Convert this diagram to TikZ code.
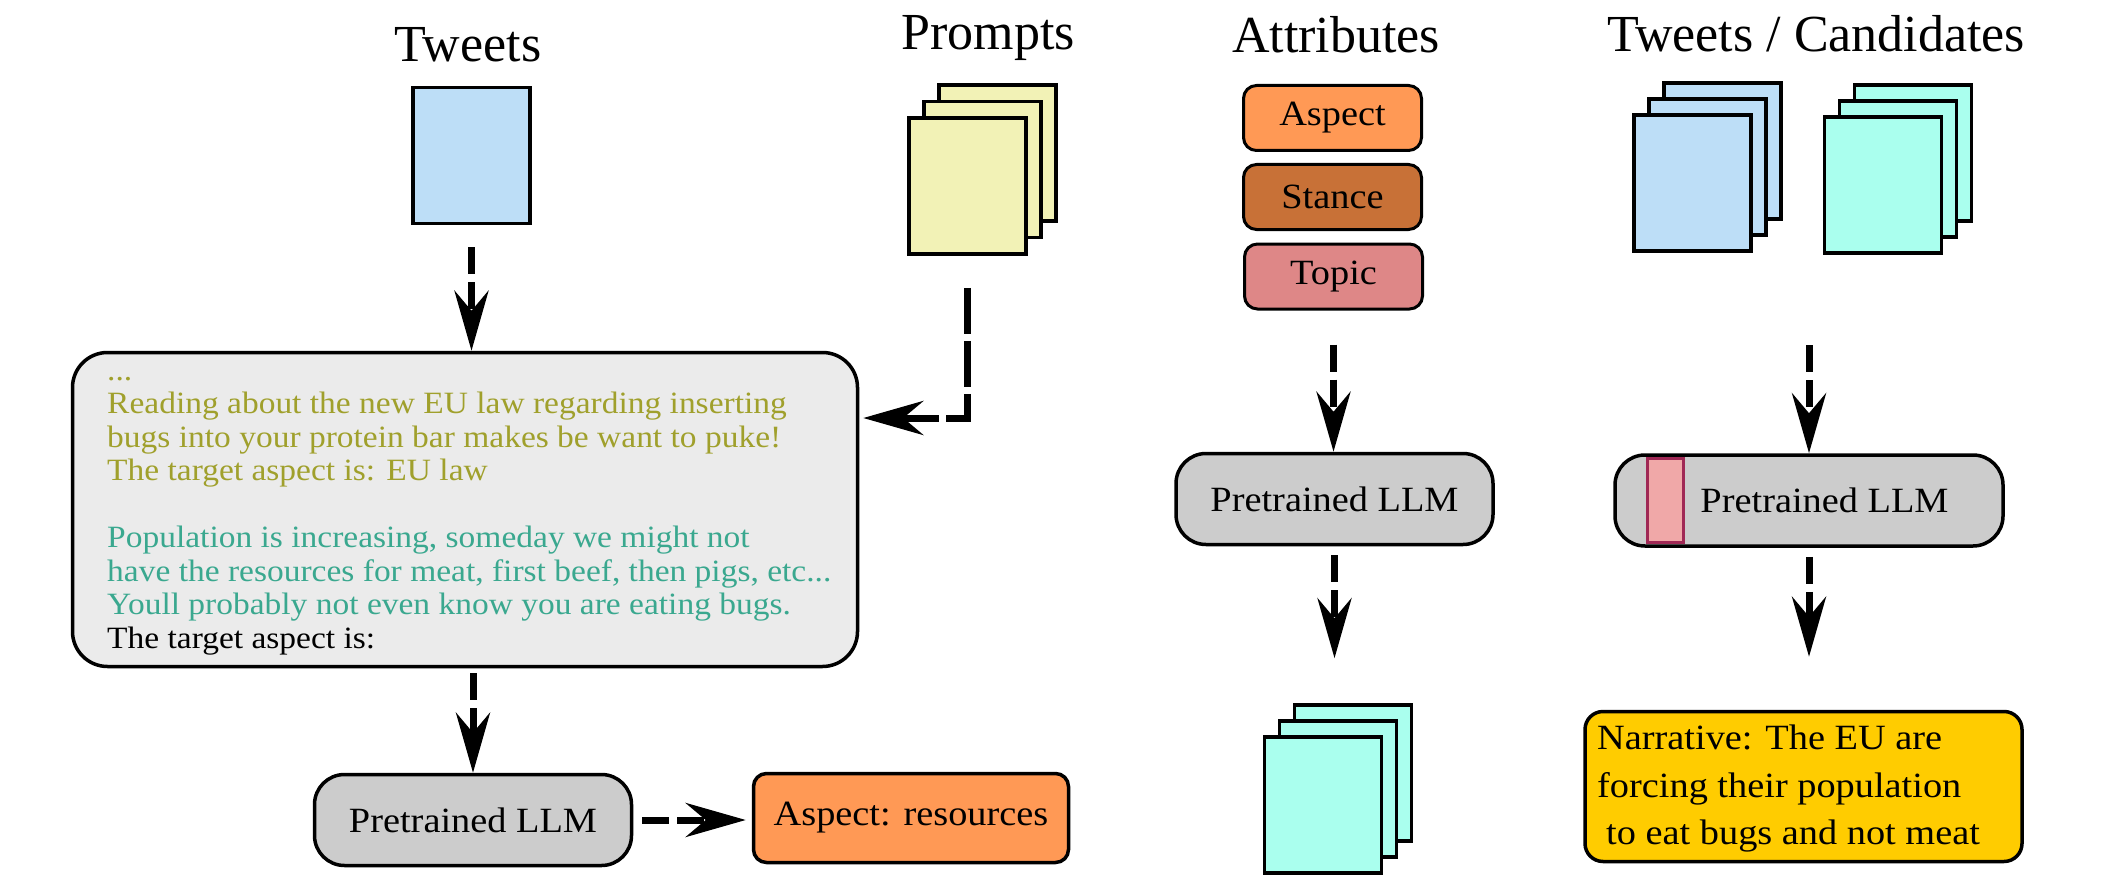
\documentclass[tikz,border=0pt]{standalone}
\usepackage{fontspec}
\setmainfont{Liberation Serif}
\newfontfamily\widefont{Liberation Serif}[FakeStretch=1.08]
\usetikzlibrary{arrows.meta}
\definecolor{tweetblue}{RGB}{189, 222, 247}
\definecolor{promptyellow}{RGB}{242, 242, 182}
\definecolor{candcyan}{RGB}{170, 255, 238}
\definecolor{boxgray}{RGB}{235, 235, 235}
\definecolor{llmgray}{RGB}{204, 204, 204}
\definecolor{aspectorange}{RGB}{255, 153, 85}
\definecolor{stancebrown}{RGB}{200, 113, 55}
\definecolor{topicpink}{RGB}{222, 135, 135}
\definecolor{narrgold}{RGB}{255, 204, 0}
\definecolor{adapterpink}{RGB}{240, 168, 168}
\definecolor{adapterred}{RGB}{160, 40, 85}
\definecolor{olivetext}{RGB}{160, 160, 44}
\definecolor{tealtext}{RGB}{58, 168, 143}

\begin{document}
\begin{tikzpicture}[
  title/.style={anchor=base, inner sep=0pt, font=\fontsize{52pt}{60pt}\selectfont},
  page/.style={rectangle, draw=black, line width=3.5pt, minimum width=117pt, minimum height=136pt, inner sep=0pt},
  attr/.style={rectangle, rounded corners=13pt, draw=black, line width=3pt, minimum width=178pt, minimum height=65pt, font=\widefont\fontsize{35.5pt}{44pt}\selectfont},
  llm/.style={rectangle, rounded corners=30pt, draw=black, line width=3.5pt, fill=llmgray, minimum width=317pt, minimum height=91pt, font=\widefont\fontsize{35.5pt}{44pt}\selectfont},
  flow/.style={line width=7pt, dash pattern=on 27pt off 8pt, -{Stealth[length=60pt, width=34pt, inset=20pt]}}]
\useasboundingbox (0pt, 0pt) rectangle (2116pt, -896pt);
% column titles
\node (t1) [title] at (468pt, -62pt) {Tweets};
\node (t2) [title] at (988pt, -50pt) {Prompts};
\node (t3) [title] at (1336pt, -53pt) {Attributes};
\node (t4) [title] at (1816pt, -52pt) {Tweets / Candidates};
% tweet and prompts
\node (tw) [page, fill=tweetblue] at (471.5pt, -155.5pt) {};
\foreach \i in {2,1,0}
  \node (p\i) [page, fill=promptyellow] at ({967.5pt+15pt*\i}, {-186pt+16.5pt*\i}) {};
% prompt box
\node (box) [rectangle, rounded corners=35pt, draw=black, line width=3.5pt, fill=boxgray, minimum width=785pt, minimum height=314pt] at (465pt, -509.5pt) {};
\node (txt) [anchor=north west, inner sep=0pt, align=left, font=\widefont\fontsize{31pt}{33.5pt}\selectfont] at (107pt, -356.5pt) {%
\strut\textcolor{olivetext}{...}\\
\textcolor{olivetext}{Reading about the new EU law regarding inserting}\\
\textcolor{olivetext}{bugs into your protein bar makes be want to puke!}\\
\textcolor{olivetext}{The target aspect is: EU law}\\[33.5pt]
\textcolor{tealtext}{Population is increasing, someday we might not}\\
\textcolor{tealtext}{have the resources for meat, first beef, then pigs, etc...}\\
\textcolor{tealtext}{Youll probably not even know you are eating bugs.}\\
The target aspect is:};
\node (llm1) [llm] at (473pt, -820pt) {Pretrained LLM};
\node (res) [rectangle, rounded corners=13pt, draw=black, line width=3.5pt, fill=aspectorange, minimum width=315pt, minimum height=89pt, font=\widefont\fontsize{35.5pt}{44pt}\selectfont] at (911pt, -818pt) {Aspect: resources};
% attributes
\node (a1) [attr, fill=aspectorange] at (1332.5pt, -118pt) {Aspect};
\node (a2) [attr, fill=stancebrown] at (1332.5pt, -197pt) {Stance};
\node (a3) [attr, fill=topicpink] at (1333.5pt, -276.5pt) {Topic};
\node (llm2) [llm] at (1334.5pt, -499pt) {Pretrained LLM};
\foreach \i in {2,1,0}
  \node (g\i) [page, fill=candcyan] at ({1323pt+15pt*\i}, {-805pt+16pt*\i}) {};
% tweets / candidates
\foreach \i in {2,1,0} {
  \node (b\i) [page, fill=tweetblue] at ({1692.5pt+15pt*\i}, {-183pt+16pt*\i}) {};
  \node (c\i) [page, fill=candcyan] at ({1883pt+15pt*\i}, {-185pt+16pt*\i}) {};
}
\node (llm3) [llm, minimum width=388pt] at (1809pt, -500.5pt) {\hspace*{31pt}Pretrained LLM};
\node (adp) [rectangle, draw=adapterred, line width=3pt, fill=adapterpink, minimum width=36pt, minimum height=84pt, inner sep=0pt] at (1665.5pt, -500.5pt) {};
\node (narr) [rectangle, rounded corners=18pt, draw=black, line width=3.5pt, fill=narrgold, minimum width=437pt, minimum height=150pt] at (1803.5pt, -786.5pt) {};
\node (ntxt) [anchor=north west, inner sep=0pt, align=left, font=\widefont\fontsize{35.5pt}{47.5pt}\selectfont] at (1597pt, -716.5pt) {%
\strut Narrative: The EU are\\
forcing their population\\
\hspace*{9pt}to eat bugs and not meat};
% connectors
\coordinate (pbend) at (967.5pt, -418pt);
\coordinate (cstart) at (1809pt, -345pt);
\draw [flow, shorten <=22pt] (tw.south) -- (tw.south |- box.north);
\draw [flow, dash pattern=on 46pt off 7pt, shorten <=32pt, shorten >=4pt] (p0.south) -- (pbend) -- (pbend -| box.east);
\draw [flow, shorten <=5pt] (box.south -| llm1.north) -- (llm1.north);
\draw [flow, shorten <=9pt, shorten >=6pt] (llm1.east) -- (llm1.east -| res.west);
\draw [flow, shorten <=34pt] (a3.south) -- (a3.south |- llm2.north);
\draw [flow, shorten <=9pt, shorten >=45pt] (llm2.south) -- (llm2.south |- g2.north);
\draw [flow] (cstart) -- (cstart |- llm3.north);
\draw [flow, shorten <=9pt, shorten >=53pt] (llm3.south) -- (llm3.south |- narr.north);
\end{tikzpicture}
\end{document}
